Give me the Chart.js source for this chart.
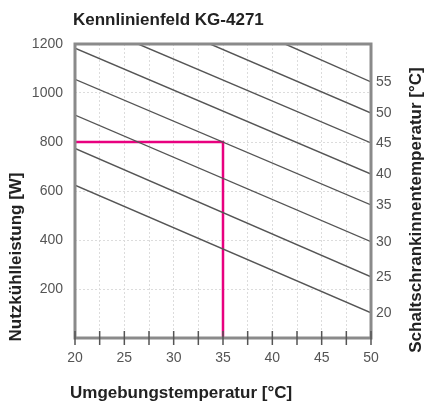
<!DOCTYPE html>
<html>
<head>
<meta charset="utf-8">
<script src="https://cdn.jsdelivr.net/npm/chart.js@4.4.1/dist/chart.umd.min.js"></script>
<style>
  html, body { margin: 0; padding: 0; background: #fff; }
  canvas { display: block; }
</style>
</head>
<body>
<canvas id="kennlinien" width="427" height="405"></canvas>
<script>
// Schaltschrankinnentemperatur je Kennlinie [°C]
const innenTemps = [20, 25, 30, 35, 40, 45, 50, 55];
// Anfangspunkt jeder Kennlinie: Umgebungstemperatur [°C] / Nutzkühlleistung [W]
const startTemp = [20, 20, 20, 20, 20, 26.4, 33.7, 41.3];
const startLeistung = [624, 774, 910, 1056, 1183, 1200, 1200, 1200];
// Endpunkt jeder Kennlinie
const endTemp = [50, 50, 50, 50, 50, 50, 50, 50];
const endLeistung = [103, 250, 393, 543, 669, 796, 918, 1045];
// Ablesebeispiel (Magenta)
const beispielTemp = [20, 35, 35];
const beispielLeistung = [800, 800, 0];
// Achsenbeschriftung links
const leistungTicks = [200, 400, 600, 800, 1000, 1200];

const TITLE = "Kennlinienfeld KG-4271";
const X_TITLE = "Umgebungstemperatur [°C]";
const Y_TITLE = "Nutzkühlleistung [W]";
const Y2_TITLE = "Schaltschrankinnentemperatur [°C]";

Chart.defaults.font.family = "'Liberation Sans', Arial, sans-serif";
Chart.defaults.font.size = 14;
Chart.defaults.color = "#555";

const datasets = innenTemps.map((t, i) => ({
  label: t + " °C",
  data: [
    { x: startTemp[i], y: startLeistung[i] },
    { x: endTemp[i], y: endLeistung[i] }
  ],
  borderColor: "#555",
  borderWidth: 1.4,
  pointRadius: 0,
  showLine: true
}));

datasets.push({
  label: "Beispiel",
  data: beispielTemp.map((t, i) => ({ x: t, y: beispielLeistung[i] })),
  borderColor: "#e8007f",
  borderWidth: 2.5,
  pointRadius: 0,
  showLine: true
});

const frame = {
  id: "frame",
  afterDraw(chart) {
    const { ctx, chartArea: a, scales } = chart;
    ctx.save();
    // Rahmen
    ctx.strokeStyle = "#8a8a8a";
    ctx.lineWidth = 3;
    ctx.strokeRect(a.left, a.top, a.right - a.left, a.bottom - a.top);
    // Teilstriche unten
    ctx.strokeStyle = "#555";
    ctx.lineWidth = 1.5;
    scales.x.ticks.forEach(t => {
      const px = scales.x.getPixelForValue(t.value);
      ctx.beginPath();
      ctx.moveTo(px, a.bottom - 7);
      ctx.lineTo(px, a.bottom + 7);
      ctx.stroke();
    });
    // Titel
    ctx.fillStyle = "#222";
    ctx.font = "bold 17px 'Liberation Sans', Arial, sans-serif";
    ctx.textBaseline = "middle";
    ctx.textAlign = "left";
    ctx.fillText(TITLE, 73, 20);
    ctx.fillText(X_TITLE, 70, 393);
    ctx.textAlign = "center";
    ctx.translate(16, 257);
    ctx.rotate(-Math.PI / 2);
    ctx.fillText(Y_TITLE, 0, 0);
    ctx.setTransform(chart.currentDevicePixelRatio, 0, 0, chart.currentDevicePixelRatio, 0, 0);
    ctx.translate(416, 210);
    ctx.rotate(-Math.PI / 2);
    ctx.fillText(Y2_TITLE, 0, 0);
    ctx.restore();
  }
};

new Chart(document.getElementById("kennlinien"), {
  type: "scatter",
  data: { datasets },
  options: {
    responsive: false,
    animation: false,
    layout: { padding: { top: 44, left: 0, right: 0, bottom: 0 } },
    plugins: {
      legend: { display: false },
      tooltip: { enabled: false }
    },
    scales: {
      x: {
        type: "linear",
        min: 20,
        max: 50,
        afterBuildTicks(s) {
          const ticks = [];
          for (let v = 20; v <= 50; v += 2.5) ticks.push({ value: v });
          s.ticks = ticks;
        },
        afterFit(s) { s.height = 67; },
        ticks: {
          padding: 12,
          maxRotation: 0,
          autoSkip: false,
          callback: v => (v % 5 === 0 ? String(v) : "")
        },
        grid: { color: "#dcdcdc", lineWidth: 1, drawTicks: false },
        border: { display: false, dash: [2, 2] }
      },
      y: {
        type: "linear",
        min: 0,
        max: 1200,
        afterBuildTicks(s) { s.ticks = leistungTicks.map(v => ({ value: v })); },
        afterFit(s) { s.width = 75; },
        ticks: { padding: 12, callback: v => String(v) },
        grid: { color: "#dcdcdc", lineWidth: 1, drawTicks: false },
        border: { display: false, dash: [2, 2] }
      },
      y1: {
        type: "linear",
        position: "right",
        min: 0,
        max: 1200,
        afterBuildTicks(s) { s.ticks = endLeistung.map(v => ({ value: v })); },
        afterFit(s) { s.width = 56; },
        ticks: {
          padding: 5,
          autoSkip: false,
          callback: (v, i) => String(innenTemps[i])
        },
        grid: { drawOnChartArea: false, drawTicks: false },
        border: { display: false }
      }
    }
  },
  plugins: [frame]
});
</script>
</body>
</html>
